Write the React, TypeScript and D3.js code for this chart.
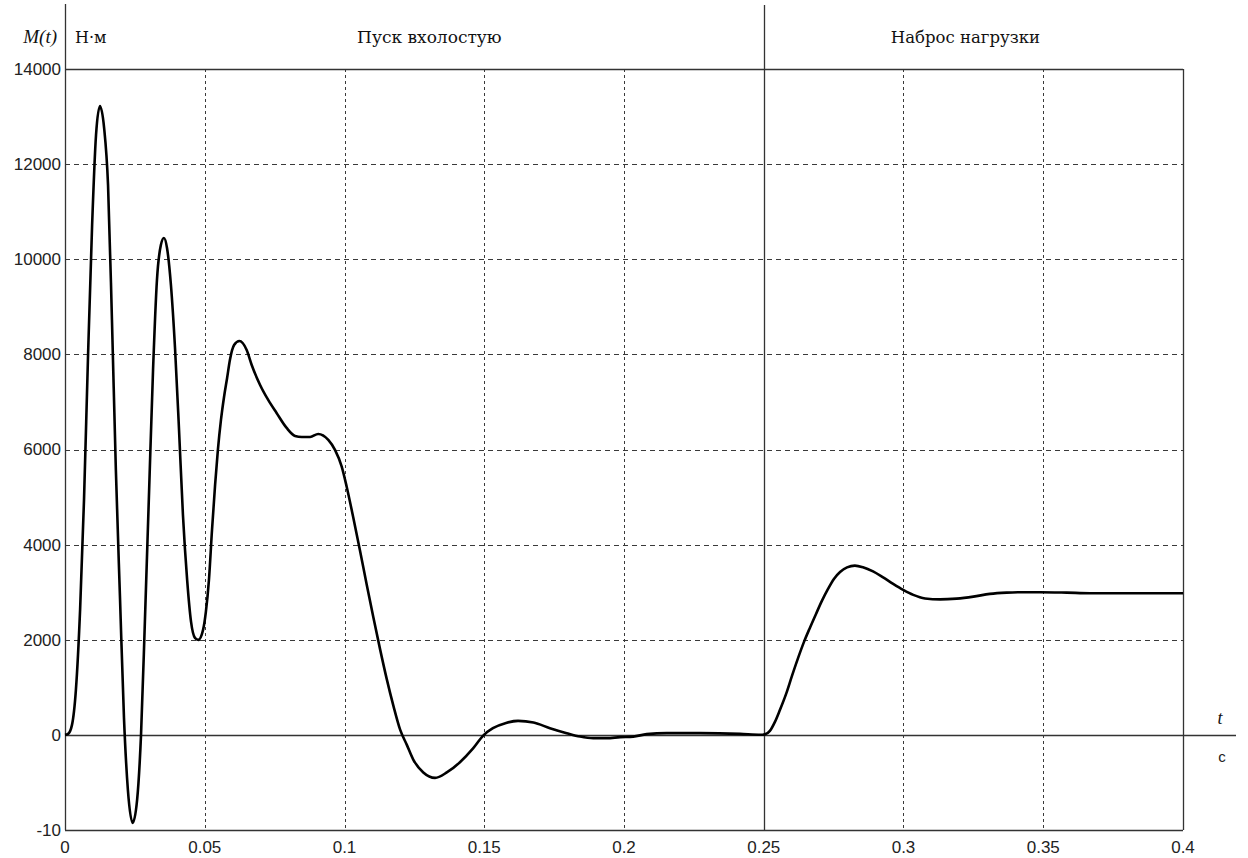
import React from "react";
import * as d3 from "d3";

const tValues = [
  0, 0.0011, 0.0025, 0.0039, 0.0054, 0.0068, 0.0082, 0.0097, 0.0111, 0.0125,
  0.014, 0.0154, 0.0168, 0.0182, 0.0197, 0.0211, 0.0225, 0.0242,
  0.0258, 0.0272, 0.0286, 0.0301, 0.0315, 0.0329, 0.0343, 0.0354,
  0.0365, 0.0379, 0.0394, 0.0408, 0.0422, 0.0437, 0.0451, 0.0465, 0.0477,
  0.0494, 0.0504, 0.0515, 0.0526, 0.0537, 0.0547, 0.0558, 0.0569, 0.058, 0.059, 0.0605, 0.0624,
  0.065, 0.0668, 0.0698, 0.0727, 0.0757, 0.0793, 0.0823, 0.0847, 0.0877, 0.0906,
  0.0942, 0.0966, 0.099, 0.1008, 0.1031, 0.1055, 0.1079, 0.1103, 0.1127, 0.1151, 0.1175,
  0.1199, 0.1223, 0.1246, 0.1282, 0.1324, 0.1366, 0.1413, 0.146, 0.1497, 0.1531, 0.1578,
  0.1621, 0.1676, 0.1735, 0.1795, 0.1843, 0.189, 0.1938, 0.1986, 0.2033, 0.2081, 0.2153,
  0.2272, 0.2415, 0.249, 0.2504, 0.2522, 0.254, 0.2558, 0.258, 0.2601, 0.2623, 0.2644,
  0.2665, 0.2687, 0.2708, 0.273, 0.2751, 0.2773, 0.2798, 0.2826, 0.2855, 0.2891, 0.2927,
  0.2963, 0.2999, 0.3035, 0.3077, 0.3131, 0.319, 0.325, 0.3309, 0.3369, 0.3429, 0.3488,
  0.3584, 0.3667, 0.3786, 0.4,
];

const torqueValues = [
  0, 21, 210, 946, 2628, 4940, 7883, 10720, 12612, 13222,
  12759, 11561, 8723, 5570, 2838, 357, -1156, -1850,
  -1366, 0, 2417, 5150, 7672, 9564, 10300, 10447,
  10237, 9459, 8093, 6411, 4624, 3258, 2375, 2039, 1997,
  2207, 2585, 3258, 4309, 5255, 5991, 6621, 7105, 7504, 7883, 8198, 8282,
  8093, 7778, 7357, 7042, 6768, 6453, 6285, 6264, 6264, 6327,
  6201, 5991, 5640, 5213, 4582, 3889, 3174, 2480, 1808, 1177, 610,
  110, -210, -520, -790, -904, -790, -575, -285, -10, 140, 252,
  294, 259, 141, 36, -36, -69, -69, -48, -36, 15, 36,
  36, 21, 3, 10, 84, 273, 526, 862, 1240, 1619, 1955,
  2249, 2543, 2817, 3069, 3279, 3426, 3521, 3559, 3525, 3437, 3311,
  3174, 3048, 2943, 2869, 2848, 2865, 2907, 2964, 2991, 3000, 3000,
  2991, 2979, 2979, 2979,
];

const xTickValues = [0, 0.05, 0.1, 0.15, 0.2, 0.25, 0.3, 0.35, 0.4];
const xTickLabels = ["0", "0.05", "0.1", "0.15", "0.2", "0.25", "0.3", "0.35", "0.4"];
const yTickValues = [-2000, 0, 2000, 4000, 6000, 8000, 10000, 12000, 14000];
const yTickLabels = ["-10", "0", "2000", "4000", "6000", "8000", "10000", "12000", "14000"];

const phaseTitles = ["Пуск вхолостую", "Наброс нагрузки"];
const phaseBounds = [0, 0.25, 0.4];
const loadStep = 0.25;

export default function App() {
  const W = 1248;
  const H = 858;
  const left = 65;
  const right = 1183;
  const top = 69;
  const bottom = 830;

  const x = d3.scaleLinear().domain([0, 0.4]).range([left, right]);
  const y = d3.scaleLinear().domain([-2000, 14000]).range([bottom, top]);

  const data = tValues.map((t, i) => [t, torqueValues[i]] as [number, number]);
  const line = d3
    .line<[number, number]>()
    .x((d) => x(d[0]))
    .y((d) => y(d[1]))
    .curve(d3.curveMonotoneX);

  const gridColor = "#3a3a3a";
  const frameColor = "#333";
  const tickFont = "'Liberation Sans', Arial, sans-serif";
  const serif = "'DejaVu Serif', 'Liberation Serif', serif";

  return (
    <svg
      width={W}
      height={H}
      style={{ position: "absolute", left: 0, top: 0, background: "#fff" }}
    >
      <rect x={0} y={0} width={W} height={H} fill="#fff" />
      {xTickValues
        .filter((v) => v > 0 && v < 0.4 && v !== loadStep)
        .map((v) => (
          <line
            key={"vx" + v}
            x1={Math.round(x(v)) + 0.5}
            x2={Math.round(x(v)) + 0.5}
            y1={top}
            y2={bottom}
            stroke={gridColor}
            strokeWidth={1}
            strokeDasharray="3,3"
          />
        ))}
      {yTickValues
        .filter((v) => v > 0 && v < 14000)
        .map((v) => (
          <line
            key={"hy" + v}
            x1={left}
            x2={right}
            y1={Math.round(y(v)) + 0.5}
            y2={Math.round(y(v)) + 0.5}
            stroke={gridColor}
            strokeWidth={1}
            strokeDasharray="5,4"
          />
        ))}
      <line x1={left} x2={right} y1={top + 0.5} y2={top + 0.5} stroke={frameColor} strokeWidth={1.3} />
      <line x1={left} x2={right} y1={bottom + 0.5} y2={bottom + 0.5} stroke={frameColor} strokeWidth={1.3} />
      <line x1={right + 0.5} x2={right + 0.5} y1={top} y2={bottom} stroke={frameColor} strokeWidth={1.3} />
      <line x1={left + 0.5} x2={left + 0.5} y1={4} y2={bottom} stroke={frameColor} strokeWidth={1.3} />
      <line
        x1={Math.round(x(loadStep)) + 0.5}
        x2={Math.round(x(loadStep)) + 0.5}
        y1={5}
        y2={bottom}
        stroke={frameColor}
        strokeWidth={1.3}
      />
      <line x1={left} x2={1236} y1={Math.round(y(0)) + 0.5} y2={Math.round(y(0)) + 0.5} stroke={frameColor} strokeWidth={1.3} />

      <path d={line(data) || ""} fill="none" stroke="#000" strokeWidth={2.6} strokeLinejoin="round" />

      {yTickValues.map((v, i) => (
        <text
          key={"yl" + v}
          x={left - 4}
          y={y(v)}
          dy="0.35em"
          textAnchor="end"
          fontFamily={tickFont}
          fontSize={17}
          fill="#222"
        >
          {yTickLabels[i]}
        </text>
      ))}
      {xTickValues.map((v, i) => (
        <text
          key={"xl" + v}
          x={x(v)}
          y={853}
          textAnchor="middle"
          fontFamily={tickFont}
          fontSize={17}
          fill="#222"
        >
          {xTickLabels[i]}
        </text>
      ))}

      <text x={57} y={43} textAnchor="end" fontFamily="'Liberation Serif', serif" fontStyle="italic" fontSize={19} fill="#111">
        M(t)
      </text>
      <text x={75} y={43} fontFamily={serif} fontSize={16} fill="#111">
        Н·м
      </text>
      <text x={1220} y={724} textAnchor="middle" fontFamily="'Liberation Serif', serif" fontStyle="italic" fontSize={18} fill="#111">
        t
      </text>
      <text x={1222} y={762} textAnchor="middle" fontFamily={tickFont} fontSize={15} fill="#222">
        c
      </text>

      {phaseTitles.map((s, i) => {
        const cx = i === 0 ? (x(phaseBounds[0]) + x(phaseBounds[1])) / 2 + 15 : (x(phaseBounds[1]) + x(phaseBounds[2])) / 2 - 8;
        return (
          <text key={s} x={cx} y={43} textAnchor="middle" fontFamily={serif} fontSize={i === 0 ? 17 : 16.5} fill="#111">
            {s}
          </text>
        );
      })}
    </svg>
  );
}
